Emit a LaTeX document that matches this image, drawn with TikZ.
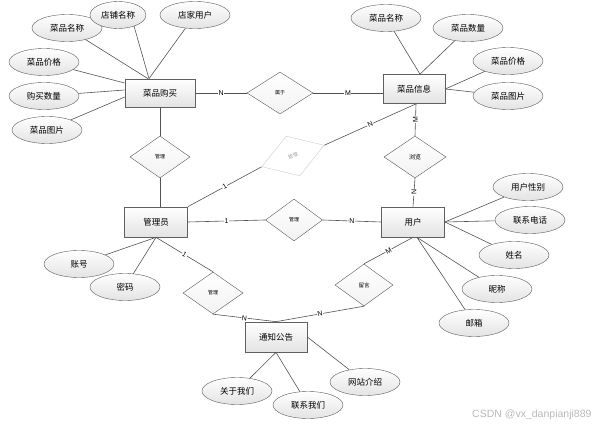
\documentclass[tikz,border=0pt]{standalone}
\usepackage{fontspec}
\setmainfont{Noto Sans CJK SC}
\newfontfamily\cardfont{Liberation Sans}
\usetikzlibrary{shapes.geometric}

\begin{document}
\begin{tikzpicture}[x=1pt, y=-1pt,
  entity/.style={draw=gray!75!black, line width=0.7pt, top color=white, bottom color=gray!22, minimum width=62pt, minimum height=29pt, inner sep=0pt, font=\fontsize{8.5}{9}\selectfont},
  attr/.style={ellipse, draw=gray!70!black, top color=white, bottom color=gray!22, minimum width=70pt, minimum height=27pt, inner sep=0pt, font=\fontsize{8.5}{9}\selectfont},
  rel/.style={diamond, draw=gray!70!black, top color=white, bottom color=gray!10, minimum width=60pt, minimum height=42pt, inner sep=0pt, font=\fontsize{5}{5}\selectfont},
  card/.style={fill=white, inner sep=0.6pt, font=\cardfont\fontsize{7}{7}\selectfont},
  link/.style={draw=gray!65!black, line width=0.6pt}]
  \useasboundingbox (0,0) rectangle (598,428);
  \node[entity, minimum width=70pt, minimum height=28pt] (goumai) at (160,93) {菜品购买};
  \node[entity] (xinxi) at (414,89) {菜品信息};
  \node[entity, minimum width=63pt, minimum height=30pt] (admin) at (156,222) {管理员};
  \node[entity, minimum width=63pt, minimum height=30pt] (user) at (413,222) {用户};
  \node[entity, minimum height=30pt] (notice) at (276,337) {通知公告};

  \node[rel, minimum width=66pt] (shuyu) at (280,93) {属于};
  \node[rel] (guanli1) at (160,157) {管理};
  \node[rel, draw=gray!40, text=gray!70, top color=white, bottom color=white, rotate=19, minimum width=66pt] (guanli2) at (293,156) {管理};
  \node[rel, minimum width=62pt, font=\fontsize{6}{6}\selectfont] (liulan) at (415,157) {浏览};
  \node[rel, minimum width=57pt] (guanli3) at (294,220) {管理};
  \node[rel] (guanli4) at (213,293) {管理};
  \node[rel, minimum width=58pt, font=\fontsize{5.5}{6}\selectfont] (liuyan) at (364,285) {留言};

  \node[attr] (gmname) at (67,28) {菜品名称};
  \node[attr, minimum width=56pt] (gmshop) at (118,15) {店铺名称};
  \node[attr] (gmseller) at (195,15) {店家用户};
  \node[attr] (gmprice) at (44,62) {菜品价格};
  \node[attr] (gmnum) at (44,96) {购买数量};
  \node[attr] (gmpic) at (47,130) {菜品图片};
  \node[attr] (xxname) at (386,18) {菜品名称};
  \node[attr] (xxnum) at (468,28) {菜品数量};
  \node[attr] (xxprice) at (508,61) {菜品价格};
  \node[attr] (xxpic) at (508,96) {菜品图片};
  \node[attr] (usex) at (528,187) {用户性别};
  \node[attr] (utel) at (530,220) {联系电话};
  \node[attr] (uname) at (514,255) {姓名};
  \node[attr] (unick) at (497,289) {昵称};
  \node[attr] (umail) at (474,323) {邮箱};
  \node[attr] (account) at (79,264) {账号};
  \node[attr] (pwd) at (125,287) {密码};
  \node[attr] (about) at (237,391) {关于我们};
  \node[attr] (contact) at (308,405) {联系我们};
  \node[attr] (intro) at (365,382) {网站介绍};

  \draw[link] (gmname) -- ([xshift=-12pt]goumai.north);
  \draw[link] (gmshop.-35) -- ([xshift=-11pt]goumai.north);
  \draw[link] (gmseller) -- ([xshift=-11pt]goumai.north);
  \draw[link] (gmprice) -- ([yshift=10pt]goumai.west);
  \draw[link] (gmnum) -- ([yshift=3pt]goumai.west);
  \draw[link] (gmpic) -- ([yshift=-4pt]goumai.west);
  \draw[link] (xxname) -- ([xshift=6pt]xinxi.north);
  \draw[link] (xxnum) -- ([xshift=6pt]xinxi.north);
  \draw[link] (xxprice) -- (xinxi.east);
  \draw[link] (xxpic) -- (xinxi.east);
  \draw[link] (usex) -- (user.east);
  \draw[link] (utel) -- (user.east);
  \draw[link] (uname) -- (user.east);
  \draw[link] (unick) -- ([xshift=4pt]user.south);
  \draw[link] (umail) -- ([xshift=4pt]user.south);
  \draw[link] (account) -- (admin.south);
  \draw[link] (pwd) -- (admin.south);
  \draw[link] (about) -- (notice.south);
  \draw[link] (contact) -- (notice.south);
  \draw[link] (intro) -- (notice.east);

  \draw[link] (goumai.east) -- (shuyu.west) node[card, midway] {N};
  \draw[link] (shuyu.east) -- (shuyu.east -| xinxi.west) node[card, midway] {M};
  \draw[link] (goumai.south) -- (guanli1.north);
  \draw[link] (guanli1.south) -- (guanli1.south |- admin.north);
  \draw[link] ([xshift=2pt]xinxi.south) -- (liulan.north) node[card, midway, rotate=90] {M};
  \draw[link] (liulan.south) -- (user.north) node[card, midway, rotate=90] {N};
  \draw[link] ([xshift=2pt]xinxi.south) -- (guanli2.east) node[card, pos=0.5, sloped] {N};
  \draw[link] (guanli2.west) -- (admin.north east) node[card, midway, sloped] {1};
  \draw[link] (admin.east) -- (guanli3.west) node[card, midway] {1};
  \draw[link] (guanli3.east) -- (user.west) node[card, midway] {N};
  \draw[link] (admin.south) -- (guanli4.north) node[card, pos=0.5, sloped] {1};
  \draw[link] (guanli4.south) -- (notice.north) node[card, midway, sloped] {N};
  \draw[link] (user.south) -- (liuyan.north) node[card, pos=0.5, sloped] {M};
  \draw[link] (liuyan.south) -- (notice.north) node[card, midway, sloped] {N};

  \node[anchor=east, text=gray!55, font=\cardfont\fontsize{10.5}{11}\selectfont] (mark) at (595,415) {CSDN @vx\_danpianji889};
\end{tikzpicture}
\end{document}
